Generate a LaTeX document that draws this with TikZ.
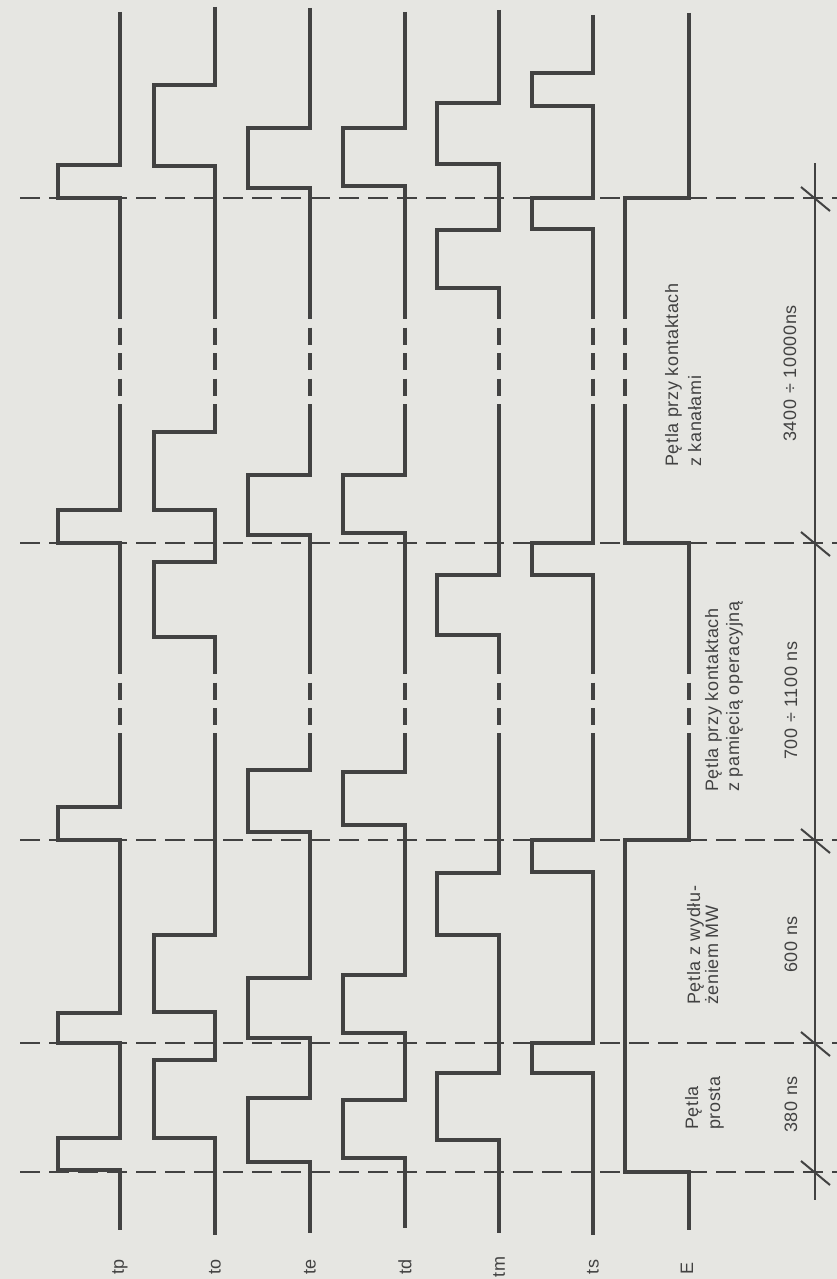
\documentclass[tikz,border=0pt]{standalone}
\usepackage{fontspec}
\setmainfont{Liberation Sans}[LetterSpace=3.5]
\definecolor{paper}{RGB}{230,230,226}
\definecolor{ink}{RGB}{66,66,66}
\begin{document}
\begin{tikzpicture}[x=1pt,y=-1pt,
  sig/.style={draw=ink,line width=3.3pt,line join=miter},
  brk/.style={sig,dash pattern=on 17pt off 8.5pt,dash phase=17pt},
  dline/.style={draw=ink,line width=2.7pt,dash pattern=on 20pt off 9pt},
  axisline/.style={draw=ink,line width=2.4pt},
  tickmark/.style={draw=ink,line width=2pt},
  lab/.style={rotate=90,inner sep=0pt,text=ink,font=\fontsize{18}{21}\selectfont},
  captxt/.style={lab,anchor=base west}]
\useasboundingbox (0,0) rectangle (837,1279);
\fill[paper] (0,0) rectangle (837,1279);

% dashed time markers
\foreach \d in {198,543,840,1043,1172}
  \draw[dline] (20,\d) -- (837,\d);

% time axis with ticks
\draw[axisline] (815,163) -- (815,1200);
\foreach \d in {198,543,840,1043,1172}
  \draw[tickmark] (801,\d-11) -- (830,\d+13);

% tp
\draw[sig] (120,12) -- (120,165) -- (58,165) -- (58,198) -- (120,198) -- (120,319);
\draw[brk] (120,319) -- (120,404);
\draw[sig] (120,404) -- (120,510) -- (58,510) -- (58,543) -- (120,543) -- (120,674);
\draw[brk] (120,674) -- (120,733);
\draw[sig] (120,733) -- (120,807) -- (58,807) -- (58,840) -- (120,840) -- (120,1013) -- (58,1013) -- (58,1043) -- (120,1043) -- (120,1138) -- (58,1138) -- (58,1170) -- (120,1170) -- (120,1230);

% to
\draw[sig] (215,7) -- (215,85) -- (154,85) -- (154,166) -- (215,166) -- (215,319);
\draw[brk] (215,319) -- (215,404);
\draw[sig] (215,404) -- (215,432) -- (154,432) -- (154,510) -- (215,510) -- (215,562) -- (154,562) -- (154,637) -- (215,637) -- (215,674);
\draw[brk] (215,674) -- (215,733);
\draw[sig] (215,733) -- (215,935) -- (154,935) -- (154,1012) -- (215,1012) -- (215,1060) -- (154,1060) -- (154,1138) -- (215,1138) -- (215,1235);

% te
\draw[sig] (310,8) -- (310,128) -- (248,128) -- (248,188) -- (310,188) -- (310,319);
\draw[brk] (310,319) -- (310,404);
\draw[sig] (310,404) -- (310,475) -- (248,475) -- (248,535) -- (310,535) -- (310,674);
\draw[brk] (310,674) -- (310,733);
\draw[sig] (310,733) -- (310,770) -- (248,770) -- (248,832) -- (310,832) -- (310,978) -- (248,978) -- (248,1038) -- (310,1038) -- (310,1098) -- (248,1098) -- (248,1162) -- (310,1162) -- (310,1233);

% td
\draw[sig] (405,12) -- (405,128) -- (343,128) -- (343,186) -- (405,186) -- (405,319);
\draw[brk] (405,319) -- (405,404);
\draw[sig] (405,404) -- (405,475) -- (343,475) -- (343,533) -- (405,533) -- (405,674);
\draw[brk] (405,674) -- (405,733);
\draw[sig] (405,733) -- (405,772) -- (343,772) -- (343,825) -- (405,825) -- (405,975) -- (343,975) -- (343,1033) -- (405,1033) -- (405,1100) -- (343,1100) -- (343,1158) -- (405,1158) -- (405,1228);

% tm
\draw[sig] (499,10) -- (499,103) -- (437,103) -- (437,164) -- (499,164) -- (499,230) -- (437,230) -- (437,288) -- (499,288) -- (499,319);
\draw[brk] (499,319) -- (499,404);
\draw[sig] (499,404) -- (499,575) -- (437,575) -- (437,635) -- (499,635) -- (499,674);
\draw[brk] (499,674) -- (499,733);
\draw[sig] (499,733) -- (499,873) -- (437,873) -- (437,935) -- (499,935) -- (499,1073) -- (437,1073) -- (437,1140) -- (499,1140) -- (499,1233);

% ts
\draw[sig] (593,15) -- (593,73) -- (532,73) -- (532,106) -- (593,106) -- (593,198) -- (532,198) -- (532,229) -- (593,229) -- (593,319);
\draw[brk] (593,319) -- (593,404);
\draw[sig] (593,404) -- (593,543) -- (532,543) -- (532,575) -- (593,575) -- (593,674);
\draw[brk] (593,674) -- (593,733);
\draw[sig] (593,733) -- (593,840) -- (532,840) -- (532,872) -- (593,872) -- (593,1043) -- (532,1043) -- (532,1073) -- (593,1073) -- (593,1235);

% E
\draw[sig] (689,13) -- (689,198) -- (625,198) -- (625,319);
\draw[brk] (625,319) -- (625,404);
\draw[sig] (625,404) -- (625,543) -- (689,543) -- (689,674);
\draw[brk] (689,674) -- (689,733);
\draw[sig] (689,733) -- (689,840) -- (625,840) -- (625,1172) -- (689,1172) -- (689,1230);

% signal labels
\node[lab] (ltp) at (120,1267) {tp};
\node[lab] (lto) at (215,1267) {to};
\node[lab] (lte) at (310,1267) {te};
\node[lab] (ltd) at (405,1267) {td};
\node[lab] (ltm) at (499,1267) {tm};
\node[lab] (lts) at (593,1267) {ts};
\node[lab] (lE) at (687,1268) {E};

% phase captions
\node[captxt] (b1a) at (678,467) {Pętla przy kontaktach};
\node[captxt] (b1b) at (701,467) {z kanałami};
\node[captxt] (b2a) at (718,792) {Pętla przy kontaktach};
\node[captxt] (b2b) at (739,792) {z pamięcią operacyjną};
\node[captxt] (b3a) at (700,1005) {Pętla z wydłu-};
\node[captxt] (b3b) at (718,1005) {żeniem MW};
\node[captxt] (b4a) at (698,1130) {Pętla};
\node[captxt] (b4b) at (720,1130) {prosta};

% durations
\node[captxt] (n1) at (796,442) {3400\,\,÷\,\,10000ns};
\node[captxt] (n2) at (797,760) {700 ÷ 1100 ns};
\node[captxt] (n3) at (797,973) {600 ns};
\node[captxt] (n4) at (797,1133) {380 ns};
\end{tikzpicture}
\end{document}
